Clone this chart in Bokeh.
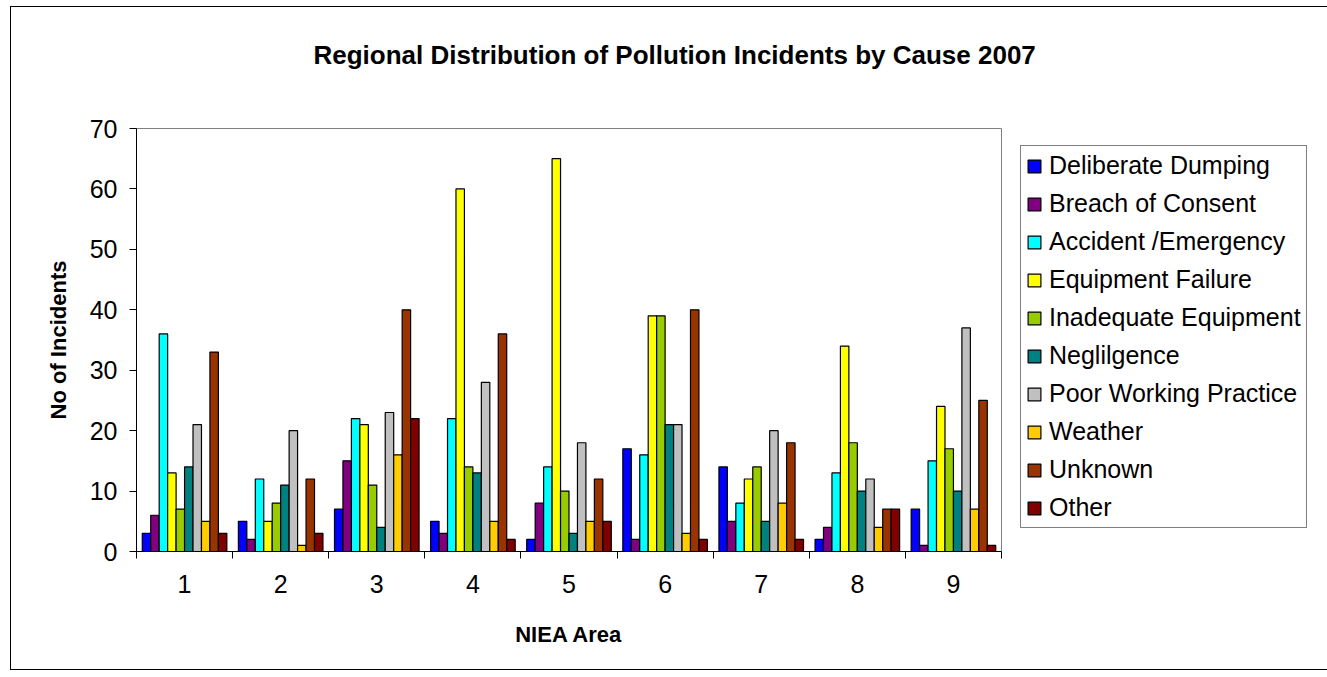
from bokeh.plotting import figure
from bokeh.models import ColumnDataSource, FixedTicker, Legend, LegendItem, Title
from bokeh.transform import dodge
from bokeh.embed import file_html
from bokeh.resources import INLINE

areas = [1, 2, 3, 4, 5, 6, 7, 8, 9]
area_labels = ["1", "2", "3", "4", "5", "6", "7", "8", "9"]
causes = ["Deliberate Dumping", "Breach of Consent", "Accident /Emergency",
          "Equipment Failure", "Inadequate Equipment", "Neglilgence",
          "Poor Working Practice", "Weather", "Unknown", "Other"]
deliberate_dumping = [3, 5, 7, 5, 2, 17, 14, 2, 7]
breach_of_consent = [6, 2, 15, 3, 8, 2, 5, 4, 1]
accident_emergency = [36, 12, 22, 22, 14, 16, 8, 13, 15]
equipment_failure = [13, 5, 21, 60, 65, 39, 12, 34, 24]
inadequate_equipment = [7, 8, 11, 14, 10, 39, 14, 18, 17]
negligence = [14, 11, 4, 13, 3, 21, 5, 10, 10]
poor_working_practice = [21, 20, 23, 28, 18, 21, 20, 12, 37]
weather = [5, 1, 16, 5, 5, 3, 8, 4, 7]
unknown = [33, 12, 40, 36, 12, 40, 18, 7, 25]
other = [3, 3, 22, 2, 5, 2, 2, 7, 1]
colors = ["#0000FF", "#800080", "#00FFFF", "#FFFF00", "#99CC00",
          "#008080", "#C0C0C0", "#FFCC00", "#993300", "#800000"]

series = [deliberate_dumping, breach_of_consent, accident_emergency,
          equipment_failure, inadequate_equipment, negligence,
          poor_working_practice, weather, unknown, other]

data = {"area": areas}
for i, s in enumerate(series):
    data[f"s{i}"] = s
source = ColumnDataSource(data)

FONT = "Liberation Sans"

p = figure(frame_width=865, frame_height=423, x_range=(0.5, 9.5), y_range=(0, 70),
           output_backend="svg", toolbar_location=None,
           min_border_left=125, min_border_right=315,
           min_border_top=121, min_border_bottom=118,
           title="Regional Distribution of Pollution Incidents by Cause 2007")
p.styles = {"border-left": "1px solid black", "border-top": "1px solid black",
            "border-bottom": "1px solid black", "margin-left": "10px",
            "margin-top": "6px"}

p.title.text_font = FONT
p.title.text_font_size = "26px"
p.title.text_font_style = "bold"
p.title.text_color = "black"
p.title.align = "left"
p.title.offset = 177

# spacer between the title and the plot area
spacer = Title(text=" ", text_font=FONT, text_font_size="38px")
p.add_layout(spacer, "above")

bw = 0.088
items = []
for i, (name, col) in enumerate(zip(causes, colors)):
    off = (i - 4.5) * bw
    r = p.vbar(x=dodge("area", off, range=p.x_range), top=f"s{i}", width=bw,
               source=source, fill_color=col, line_color="black", line_width=1.2)
    items.append(LegendItem(label=name, renderers=[r]))

legend = Legend(items=items, location=(19, 23))
legend.label_text_font = FONT
legend.label_text_font_size = "25px"
legend.label_text_color = "black"
legend.glyph_width = 16
legend.glyph_height = 16
legend.label_height = 24
legend.label_standoff = 7
legend.spacing = 9
legend.padding = 5
legend.margin = 0
legend.border_line_color = "black"
legend.border_line_width = 1
legend.background_fill_alpha = 1
p.add_layout(legend, "right")

p.xgrid.visible = False
p.ygrid.visible = False
p.outline_line_color = "#808080"

p.xaxis.ticker = FixedTicker(ticks=areas, minor_ticks=[a - 0.5 for a in areas] + [9.5])
p.xaxis.major_label_overrides = {a: l for a, l in zip(areas, area_labels)}
p.xaxis.major_tick_line_color = None
p.xaxis.minor_tick_line_color = "black"
p.xaxis.minor_tick_out = 7
p.xaxis.minor_tick_in = 0
p.xaxis.axis_line_color = "black"
p.xaxis.major_label_text_font = FONT
p.xaxis.major_label_text_font_size = "25px"
p.xaxis.major_label_text_color = "black"
p.xaxis.major_label_standoff = 16
p.xaxis.axis_label = "NIEA Area"
p.xaxis.axis_label_text_font = FONT
p.xaxis.axis_label_text_font_size = "22px"
p.xaxis.axis_label_text_font_style = "bold"
p.xaxis.axis_label_text_color = "black"
p.xaxis.axis_label_standoff = 26

p.yaxis.ticker = FixedTicker(ticks=[0, 10, 20, 30, 40, 50, 60, 70])
p.yaxis.minor_tick_line_color = None
p.yaxis.major_tick_out = 7
p.yaxis.major_tick_in = 0
p.yaxis.major_tick_line_color = "black"
p.yaxis.axis_line_color = "black"
p.yaxis.major_label_text_font = FONT
p.yaxis.major_label_text_font_size = "25px"
p.yaxis.major_label_text_color = "black"
p.yaxis.major_label_standoff = 12
p.yaxis.axis_label = "No of Incidents"
p.yaxis.axis_label_text_font = FONT
p.yaxis.axis_label_text_font_size = "22px"
p.yaxis.axis_label_text_font_style = "bold"
p.yaxis.axis_label_text_color = "black"
p.yaxis.axis_label_standoff = 16

open("out.html", "w").write(file_html(p, INLINE))
